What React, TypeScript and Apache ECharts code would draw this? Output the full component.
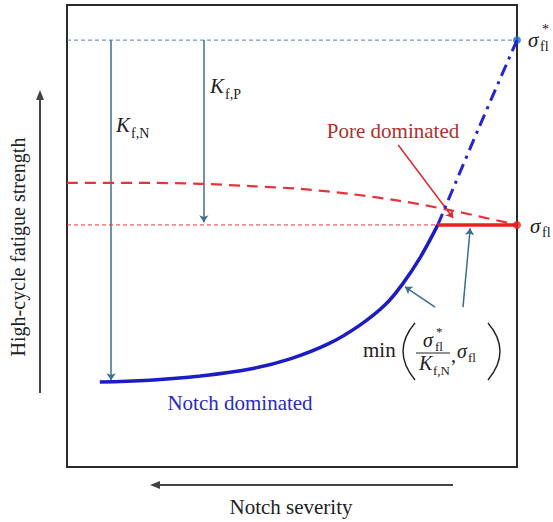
import { useEffect, useRef } from "react";
import * as echarts from "echarts";

// Notch-dominated fatigue strength curve (x: notch-severity position, y: strength, both 0..100)
const notchX = [7.3, 18.4, 29.6, 40.7, 49.6, 58.4, 65.1, 70.7, 74.7, 78.4, 82.4];
const notchY = [18.4, 18.8, 19.7, 21.2, 23.4, 26.8, 30.7, 35.1, 39.8, 45.2, 52.4];
// Extrapolated notch curve (dash-dot) up to sigma_fl*
const extrapX = [82.4, 91.3, 100];
const extrapY = [52.4, 72.9, 92.4];
// Pore-dominated curve (dashed)
const poreX = [0, 18.4, 29.6, 40.7, 51.8, 62.9, 74.0, 85.1, 100];
const poreY = [61.5, 61.5, 61.3, 60.8, 60.2, 59.1, 57.6, 55.6, 52.4];
// Reference levels
const sigmaFl = 52.4;
const sigmaFlStar = 92.4;
const junctionX = 82.4;
// Annotation arrows: [x1, y1, x2, y2]
const kfNArrow = [9.8, 92.4, 9.8, 18.8];
const kfPArrow = [30.4, 92.4, 30.4, 53.0];
const poreArrow = [73.6, 69.7, 85.8, 53.9];
const minArrow1 = [81.8, 34.6, 75.1, 39.0];
const minArrow2 = [88.0, 34.6, 89.6, 51.7];

const SERIF = "Liberation Serif";

function txt(x: number, y: number, text: string, size: number, extra: any = {}) {
  return {
    type: "text",
    x,
    y,
    style: {
      text,
      fontSize: size,
      fontFamily: SERIF,
      fill: "#222",
      align: "left",
      verticalAlign: "middle",
      ...extra,
    },
  };
}

function zip(xs: number[], ys: number[]) {
  return xs.map((x, i) => [x, ys[i]]);
}

export default function App() {
  const ref = useRef<HTMLDivElement>(null);
  useEffect(() => {
    if (!ref.current) return;
    const chart = echarts.init(ref.current, undefined, { renderer: "svg" });
    const arrowColor = "#3c6e8c";
    const option: any = {
      animation: false,
      backgroundColor: "#fff",
      grid: {
        left: 67,
        top: 5,
        right: 36,
        bottom: 55,
        show: true,
        borderColor: "#2a2a2a",
        borderWidth: 2,
        backgroundColor: "transparent",
      },
      xAxis: { type: "value", min: 0, max: 100, show: false },
      yAxis: { type: "value", min: 0, max: 100, show: false },
      series: [
        {
          type: "line",
          data: [[0, sigmaFlStar], [100, sigmaFlStar]],
          symbol: "none",
          lineStyle: { color: "#4a80b5", width: 1, type: [4, 3] },
        },
        {
          type: "line",
          data: [[0, sigmaFl], [junctionX, sigmaFl]],
          symbol: "none",
          lineStyle: { color: "#e53a3a", width: 1, type: [4, 3] },
        },
        {
          type: "line",
          data: zip(poreX, poreY),
          smooth: 0.3,
          symbol: "none",
          lineStyle: { color: "#e8333a", width: 2.2, type: [11, 7] },
        },
        {
          type: "line",
          data: zip(notchX, notchY),
          smooth: 0.4,
          symbol: "none",
          lineStyle: { color: "#1c1cc4", width: 3.5 },
        },
        {
          type: "line",
          data: zip(extrapX, extrapY),
          smooth: 0.3,
          symbol: "none",
          lineStyle: { color: "#2424d2", width: 3, type: [12, 6, 3, 6] },
        },
        {
          type: "line",
          data: [[junctionX, sigmaFl], [100, sigmaFl]],
          symbol: "none",
          lineStyle: { color: "#e82020", width: 3.5 },
        },
        {
          type: "scatter",
          symbolSize: 8,
          data: [
            { value: [100, sigmaFl], itemStyle: { color: "#e82020" } },
            { value: [100, sigmaFlStar], itemStyle: { color: "#1a6fc8" } },
          ],
        },
        {
          type: "lines",
          coordinateSystem: "cartesian2d",
          symbol: ["none", "arrow"],
          symbolSize: 7,
          lineStyle: { width: 1.5, color: arrowColor, opacity: 1 },
          data: [
            { coords: [[kfNArrow[0], kfNArrow[1]], [kfNArrow[2], kfNArrow[3]]] },
            { coords: [[kfPArrow[0], kfPArrow[1]], [kfPArrow[2], kfPArrow[3]]] },
            { coords: [[minArrow1[0], minArrow1[1]], [minArrow1[2], minArrow1[3]]] },
            { coords: [[minArrow2[0], minArrow2[1]], [minArrow2[2], minArrow2[3]]] },
            {
              coords: [[poreArrow[0], poreArrow[1]], [poreArrow[2], poreArrow[3]]],
              lineStyle: { color: "#e02828", width: 1.5 },
            },
          ],
        },
      ],
      graphic: [
        // axis arrows
        { type: "line", shape: { x1: 40, y1: 393, x2: 40, y2: 98 }, style: { stroke: "#444", lineWidth: 2 } },
        { type: "polygon", shape: { points: [[40, 90], [36, 100], [44, 100]] }, style: { fill: "#444" } },
        { type: "line", shape: { x1: 453, y1: 485, x2: 158, y2: 485 }, style: { stroke: "#444", lineWidth: 2 } },
        { type: "polygon", shape: { points: [[150, 485], [160, 481], [160, 489]] }, style: { fill: "#444" } },
        // axis titles
        { ...txt(18, 247, "High-cycle fatigue strength", 20, { align: "center" }), rotation: Math.PI / 2 },
        txt(291, 507, "Notch severity", 21, { align: "center" }),
        // region labels
        txt(393, 131, "Pore dominated", 21, { align: "center", fill: "#b0302c" }),
        txt(240, 403, "Notch dominated", 21, { align: "center", fill: "#2b2bbf" }),
        // K labels
        txt(116, 125, "K", 21, { fontStyle: "italic" }),
        txt(131, 133, "f,N", 14),
        txt(210, 86, "K", 21, { fontStyle: "italic" }),
        txt(225, 94, "f,P", 14),
        // sigma labels on right
        txt(528, 40, "σ", 21, { fontStyle: "italic" }),
        txt(540, 46, "fl", 14),
        txt(542, 29, "*", 14),
        txt(530, 226, "σ", 21, { fontStyle: "italic" }),
        txt(542, 232, "fl", 14),
        // formula
        txt(363, 350, "min", 21),
        { type: "bezierCurve", shape: { x1: 415, y1: 323, cpx1: 391, cpy1: 351, x2: 415, y2: 380 }, style: { stroke: "#222", lineWidth: 1.4, fill: null } },
        { type: "bezierCurve", shape: { x1: 488, y1: 323, cpx1: 512, cpy1: 351, x2: 488, y2: 380 }, style: { stroke: "#222", lineWidth: 1.4, fill: null } },
        txt(423, 340, "σ", 20, { fontStyle: "italic" }),
        txt(435, 346, "fl", 13),
        txt(436, 331, "*", 13),
        { type: "line", shape: { x1: 416, y1: 353, x2: 450, y2: 353 }, style: { stroke: "#222", lineWidth: 1 } },
        txt(419, 363, "K", 20, { fontStyle: "italic" }),
        txt(433, 370, "f,N", 13),
        txt(451, 355, ",", 20),
        txt(457, 351, "σ", 20, { fontStyle: "italic" }),
        txt(468, 357, "fl", 13),
      ],
    };
    chart.setOption(option);
    return () => chart.dispose();
  }, []);
  return (
    <div
      ref={ref}
      style={{ position: "fixed", left: 0, top: 0, width: 553, height: 522, background: "#fff" }}
    />
  );
}
